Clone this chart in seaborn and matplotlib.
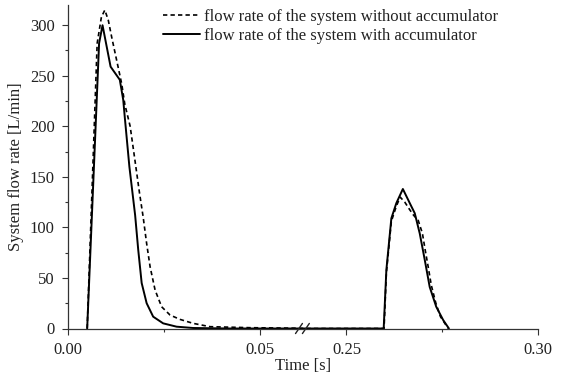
import numpy as np
import pandas as pd
import matplotlib
matplotlib.use("Agg")
import matplotlib.pyplot as plt
import seaborn as sns

# ---- data (time in s, flow rate in L/min) ----
t_without = [0.0050, 0.0076, 0.0087, 0.0096, 0.0105, 0.0114, 0.0127, 0.0140, 0.0148,
             0.0162, 0.0175, 0.0186, 0.0196, 0.0205, 0.0214, 0.0227, 0.0244, 0.0266,
             0.0292, 0.0326, 0.0370, 0.0474, 0.0596,
             0.2400, 0.2598, 0.2604, 0.2617, 0.2630, 0.2640, 0.2652, 0.2664, 0.2675,
             0.2687, 0.2698, 0.2705, 0.2713, 0.2721, 0.2733, 0.2745, 0.2762, 0.2766]
q_without = [0, 282, 308, 315, 305, 288, 265, 242, 222,
             200, 165, 135, 110, 84, 61, 38, 21.5, 13.3,
             9, 5.1, 1.8, 0.8, 0.3,
             0, 0, 55, 106, 121, 130, 125, 118, 112,
             107, 94, 78, 61, 43, 25, 11.7, 1.8, 0]

t_with = [0.0050, 0.0081, 0.0090, 0.0111, 0.0135, 0.0144, 0.0148, 0.0160, 0.0175,
          0.0183, 0.0192, 0.0205, 0.0222, 0.0248, 0.0283, 0.0326, 0.0422, 0.0596,
          0.2400, 0.2597, 0.2604, 0.2617, 0.2630, 0.2647, 0.2665, 0.2678, 0.2691,
          0.2704, 0.2717, 0.2734, 0.2752, 0.2767]
q_with = [0, 282, 300, 259, 246, 226, 209, 160, 112,
          78, 45, 25, 11.7, 5.1, 1.8, 0.5, 0, 0,
          0, 0, 58, 109, 124, 138, 124, 114, 94,
          68, 41, 21.5, 8.4, 0]

x_major = [0.00, 0.05, 0.25, 0.30]
x_minor = [0.025, 0.275]
x_labels = ["0.00", "0.05", "0.25", "0.30"]
y_major = [0, 50, 100, 150, 200, 250, 300]

label_without = "flow rate of the system without accumulator"
label_with = "flow rate of the system with accumulator"

# ---- broken time axis ----
GAP = 0.02258
BREAK_AT = 0.0611  # plotted position of the break marks


def to_plot(t):
    t = np.asarray(t, dtype=float)
    return np.where(t < 0.15, t, t - 0.25 + 0.05 + GAP)


df_without = pd.DataFrame({"x": to_plot(t_without), "q": q_without})
df_with = pd.DataFrame({"x": to_plot(t_with), "q": q_with})

FS = 12
sns.set_theme(style="ticks")
plt.rcParams["font.family"] = ["Liberation Serif", "DejaVu Serif"]
plt.rcParams["font.size"] = FS

fig = plt.figure(figsize=(5.61, 3.74), dpi=100)
ax = fig.add_axes([68 / 561, 1 - 328.5 / 374, (538.3 - 68) / 561, (328.5 - 5) / 374])

sns.lineplot(data=df_without, x="x", y="q", ax=ax, color="black", linewidth=1.2,
             estimator=None, sort=False, label=label_without)
sns.lineplot(data=df_with, x="x", y="q", ax=ax, color="black", linewidth=1.4,
             estimator=None, sort=False, label=label_with)
ax.lines[0].set_dashes([2.6, 1.9])

ax.set_xlim(0, 0.05 + GAP + 0.05)
ax.set_ylim(0, 320)
ax.set_xticks(to_plot(x_major))
ax.set_xticklabels(x_labels)
ax.set_xticks(to_plot(x_minor), minor=True)
ax.set_yticks(y_major)
ax.set_yticks(np.arange(25, 320, 50), minor=True)

for s in ["top", "right"]:
    ax.spines[s].set_visible(False)
for s in ["left", "bottom"]:
    ax.spines[s].set_color("#333333")
    ax.spines[s].set_linewidth(0.9)

ax.tick_params(axis="both", which="major", direction="out", length=4.5, width=0.8,
               color="#333333", labelsize=FS, labelcolor="#222222", pad=5)
ax.tick_params(axis="both", which="minor", direction="out", length=2.5, width=0.8,
               color="#333333")

ax.set_xlabel("Time [s]", fontsize=FS, color="#222222", labelpad=0)
ax.set_ylabel("System flow rate [L/min]", fontsize=FS, color="#222222", labelpad=4)

# break marks on the time axis
for dx in (-0.0009, 0.0009):
    ax.plot([BREAK_AT + dx - 0.0009, BREAK_AT + dx + 0.0009], [-5, 5],
            color="#222222", linewidth=1.0, clip_on=False,
            transform=ax.transData)

leg = ax.legend(loc="upper left", bbox_to_anchor=(163 / 561, 1 - 9 / 374),
                bbox_transform=fig.transFigure, frameon=False, fontsize=FS,
                handlelength=2.2, handletextpad=0.25, labelspacing=0.15,
                borderpad=0, borderaxespad=0)
for txt in leg.get_texts():
    txt.set_color("#222222")

fig.savefig("out.png", dpi=100)
